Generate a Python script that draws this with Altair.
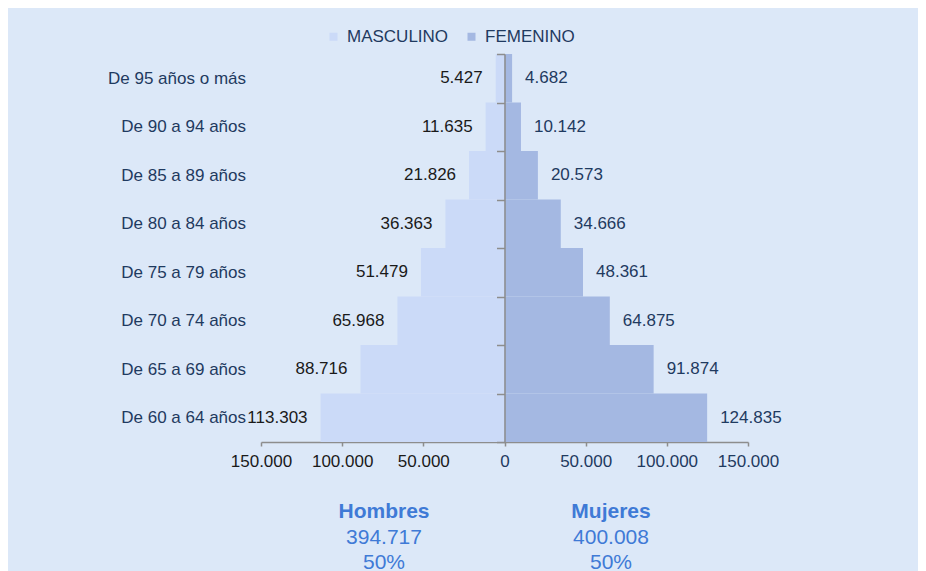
import altair as alt
import pandas as pd

# ---- data ----
ages = ["De 95 años o más", "De 90 a 94 años", "De 85 a 89 años", "De 80 a 84 años",
        "De 75 a 79 años", "De 70 a 74 años", "De 65 a 69 años", "De 60 a 64 años"]
hombres = [5427, 11635, 21826, 36363, 51479, 65968, 88716, 113303]
mujeres = [4682, 10142, 20573, 34666, 48361, 64875, 91874, 124835]
series = ["MASCULINO", "FEMENINO"]
x_ticks = [-150000, -100000, -50000, 0, 50000, 100000, 150000]
resumen_titulos = ["Hombres", "Mujeres"]

FONT = "Liberation Sans"
NAVY = "#1f3a60"
BLACK = "#1a1a1a"
AXIS_GRAY = "#8d8d8d"
BG = "#dce8f8"
MALE_C = "#cbdaf8"
FEMALE_C = "#a4b8e2"
SUM_C = "#3f7ad6"


def fmt(v):
    return f"{v:,}".replace(",", ".")


rows = []
for a, h, m in zip(ages, hombres, mujeres):
    rows.append({"edad": a, "sexo": "MASCULINO", "valor": -h, "etiqueta": fmt(h)})
    rows.append({"edad": a, "sexo": "FEMENINO", "valor": m, "etiqueta": fmt(m)})
df = pd.DataFrame(rows)

total_h = sum(hombres)
total_m = sum(mujeres)
total = total_h + total_m

W, H = 487, 388

y_axis = alt.Axis(
    title=None, orient="left", offset=-W / 2, domain=True, domainColor=AXIS_GRAY,
    domainWidth=1.5, ticks=True, tickBand="extent", tickSize=8, tickColor=AXIS_GRAY,
    tickWidth=1.5, labelPadding=251, labelFontSize=17, labelColor=NAVY, labelFont=FONT,
    zindex=1,
)
x_axis = alt.Axis(
    title=None, values=x_ticks, grid=False,
    labelExpr="replace(format(abs(datum.value), ',d'), regexp(',', 'g'), '.')",
    labelFontSize=17, labelFont=FONT,
    labelColor={"condition": {"test": "datum.value < 0", "value": BLACK}, "value": NAVY},
    domainColor=AXIS_GRAY, domainWidth=1.5, tickColor=AXIS_GRAY, tickWidth=1.5,
    tickSize=4, labelPadding=7, labelFlush=False, labelOverlap=False,
)

y_enc = alt.Y("edad:N", sort=ages, scale=alt.Scale(paddingInner=0, paddingOuter=0), axis=y_axis)
x_enc = alt.X("valor:Q", stack=None, scale=alt.Scale(domain=[-150000, 150000], nice=False), axis=x_axis)

bars = alt.Chart(df).mark_bar().encode(
    x=x_enc,
    y=y_enc,
    color=alt.Color(
        "sexo:N",
        scale=alt.Scale(domain=series, range=[MALE_C, FEMALE_C]),
        legend=alt.Legend(
            title=None, orient="none", legendX=64, legendY=-26, direction="horizontal",
            symbolType="square", symbolSize=64, symbolStrokeWidth=0, labelFontSize=17,
            labelFont=FONT, labelColor=NAVY, columnPadding=14, labelOffset=5,
        ),
    ),
)

male_txt = alt.Chart(df).transform_filter("datum.sexo == 'MASCULINO'").mark_text(
    align="right", baseline="middle", dx=-13, fontSize=17, font=FONT, color=BLACK
).encode(x=alt.X("valor:Q"), y=alt.Y("edad:N", sort=ages), text="etiqueta:N")

female_txt = alt.Chart(df).transform_filter("datum.sexo == 'FEMENINO'").mark_text(
    align="left", baseline="middle", dx=13, fontSize=17, font=FONT, color=NAVY
).encode(x=alt.X("valor:Q"), y=alt.Y("edad:N", sort=ages), text="etiqueta:N")


def resumen(titulo, valor, xpix):
    d = pd.DataFrame({"t": [titulo], "v": [fmt(valor)], "p": [f"{round(100 * valor / total)}%"]})
    base = alt.Chart(d)
    t1 = base.mark_text(fontSize=21, fontWeight="bold", font=FONT, color=SUM_C, baseline="middle").encode(
        x=alt.value(xpix), y=alt.value(H + 70), text="t:N")
    t2 = base.mark_text(fontSize=21, font=FONT, color=SUM_C, baseline="middle").encode(
        x=alt.value(xpix), y=alt.value(H + 96), text="v:N")
    t3 = base.mark_text(fontSize=21, font=FONT, color=SUM_C, baseline="middle").encode(
        x=alt.value(xpix), y=alt.value(H + 121), text="p:N")
    return [t1, t2, t3]


layers = [bars, male_txt, female_txt] + resumen(resumen_titulos[0], total_h, 123) + resumen(resumen_titulos[1], total_m, 350)

chart = alt.layer(*layers).properties(
    width=W,
    height=H,
    autosize=alt.AutoSizeParams(type="none"),
    padding={"left": 253, "top": 46, "right": 170, "bottom": 129},
).configure(background=BG, font=FONT).configure_view(stroke=None)

chart.save("out.html", embed_options={"renderer": "svg", "actions": False})
